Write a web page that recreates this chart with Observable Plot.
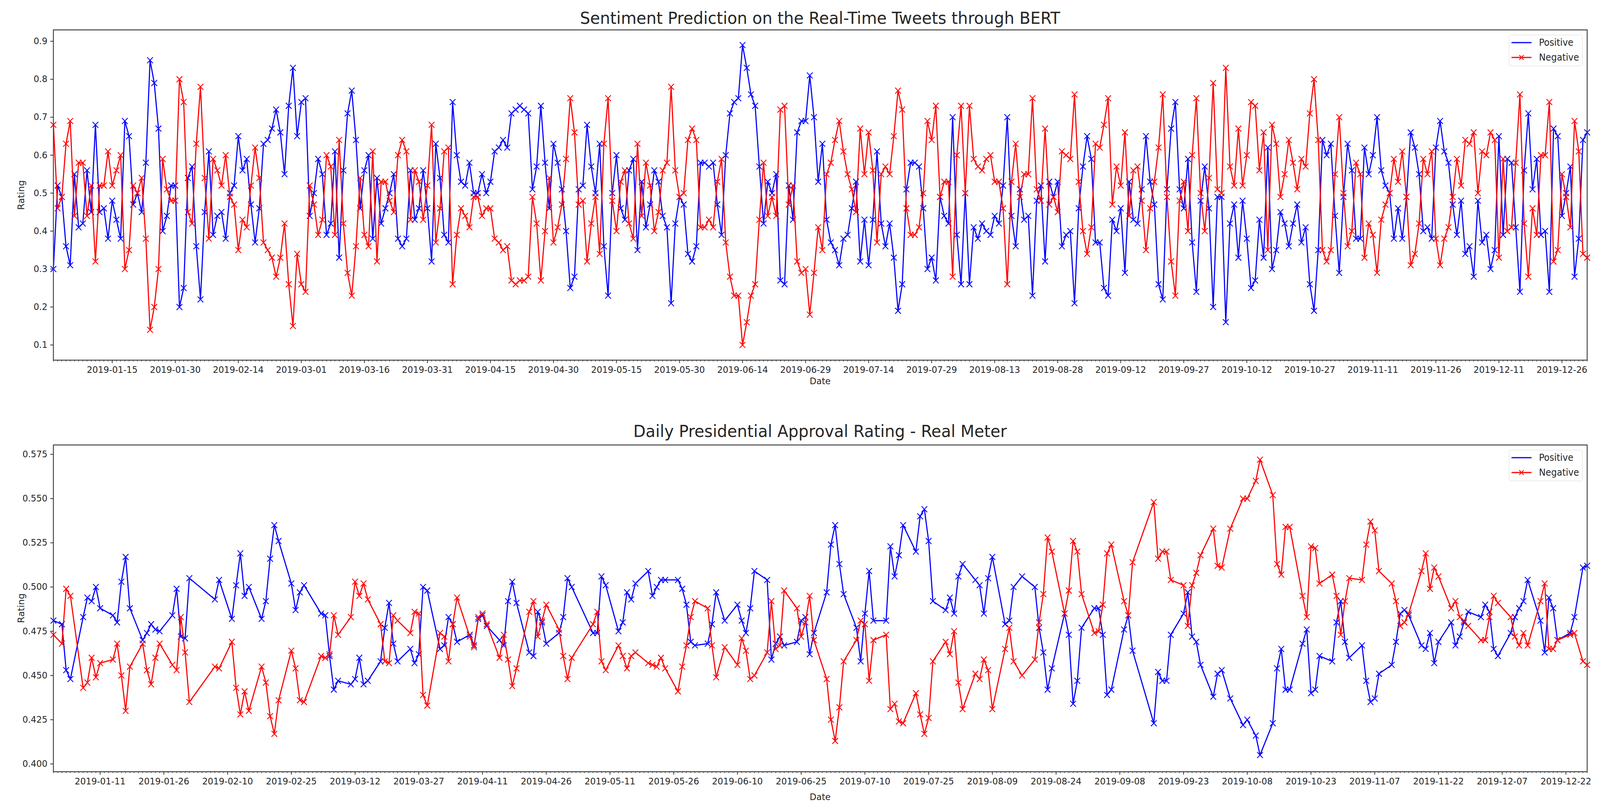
<!DOCTYPE html>
<html>
<head>
<meta charset="utf-8">
<script src="https://cdn.jsdelivr.net/npm/d3@7"></script>
<script src="https://cdn.jsdelivr.net/npm/@observablehq/plot@0.6"></script>
<style>
  html, body { margin: 0; padding: 0; background: #fff; overflow: hidden; }
  #page { position: relative; width: 4299px; height: 2075px; background: #fff; font-family: "DejaVu Sans", sans-serif; color: #262626; overflow: hidden; transform-origin: 0 0; }
  .abs { position: absolute; }
  .title { font-size: 43px; white-space: nowrap; transform: translate(-50%, -50%); line-height: 1; }
  .axlab { font-size: 23.5px; white-space: nowrap; line-height: 1; }
  .legend { position: absolute; width: 198px; height: 80px; border: 1.5px solid #d6d6d6; border-radius: 5px; background: rgba(255,255,255,0.85); box-sizing: border-box; }
  .legend .lrow { position: absolute; left: 6px; height: 30px; display: flex; align-items: center; }
  .legend span { font-size: 24px; margin-left: 18px; line-height: 1; }
</style>
</head>
<body>
<div id="page"></div>
<script>
// ---------------- Data: Sentiment Prediction (daily, 2019-01-01 .. 2020-01-01) ----------------
const tweetPositive = [
  // Jan
  0.30,0.52,0.49,0.36,0.31,0.55,0.41,0.42,0.56,0.45, 0.68,0.45,0.46,0.38,0.48,0.43,0.38,0.69,0.65,0.47,
  0.50,0.45,0.58,0.85,0.79,0.67,0.40,0.44,0.52,0.52, 0.20,
  // Feb
  0.25,0.54,0.57,0.36,0.22,0.45,0.61,0.39,0.44,0.45, 0.38,0.50,0.52,0.65,0.56,0.59,0.47,0.37,0.46,0.63,
  0.64,0.67,0.72,0.66,0.55,0.73,0.83,0.65,
  // Mar
  0.74,0.75,0.44,0.50,0.59,0.55,0.39,0.42,0.61,0.33, 0.56,0.71,0.77,0.64,0.46,0.56,0.60,0.38,0.54,0.42,
  0.46,0.50,0.55,0.38,0.36,0.38,0.56,0.43,0.46,0.56, 0.46,
  // Apr
  0.32,0.63,0.54,0.39,0.37,0.74,0.60,0.53,0.52,0.58, 0.50,0.50,0.55,0.50,0.53,0.61,0.62,0.64,0.62,0.71,
  0.72,0.73,0.72,0.71,0.51,0.57,0.73,0.58,0.46,0.63,
  // May
  0.58,0.51,0.40,0.25,0.28,0.51,0.52,0.68,0.57,0.50, 0.63,0.36,0.23,0.50,0.60,0.46,0.43,0.56,0.59,0.35,
  0.53,0.41,0.47,0.56,0.53,0.44,0.41,0.21,0.42,0.49, 0.47,
  // Jun
  0.34,0.32,0.36,0.58,0.58,0.57,0.58,0.47,0.39,0.60, 0.71,0.74,0.75,0.89,0.83,0.76,0.73,0.57,0.42,0.53,
  0.50,0.55,0.27,0.26,0.52,0.43,0.66,0.69,0.69,0.81,
  // Jul
  0.70,0.53,0.63,0.43,0.37,0.35,0.31,0.38,0.39,0.46, 0.53,0.32,0.43,0.31,0.43,0.61,0.42,0.36,0.42,0.33,
  0.19,0.26,0.51,0.58,0.58,0.57,0.46,0.30,0.33,0.27, 0.49,
  // Aug
  0.44,0.42,0.70,0.39,0.26,0.50,0.26,0.41,0.38,0.42, 0.40,0.39,0.44,0.42,0.52,0.70,0.44,0.36,0.51,0.43,
  0.44,0.23,0.48,0.52,0.32,0.53,0.49,0.53,0.36,0.39, 0.40,
  // Sep
  0.21,0.46,0.57,0.65,0.59,0.37,0.37,0.25,0.23,0.43, 0.40,0.46,0.29,0.53,0.43,0.42,0.51,0.65,0.53,0.47,
  0.26,0.22,0.51,0.67,0.74,0.51,0.46,0.59,0.37,0.24,
  // Oct
  0.48,0.57,0.46,0.20,0.49,0.49,0.16,0.42,0.47,0.33, 0.48,0.38,0.25,0.27,0.43,0.33,0.62,0.30,0.35,0.45,
  0.42,0.36,0.42,0.47,0.37,0.41,0.26,0.19,0.35,0.64, 0.60,
  // Nov
  0.63,0.44,0.29,0.49,0.63,0.56,0.38,0.38,0.62,0.55, 0.60,0.70,0.56,0.52,0.50,0.38,0.46,0.38,0.49,0.66,
  0.62,0.55,0.40,0.41,0.38,0.62,0.69,0.61,0.58,0.47,
  // Dec
  0.39,0.48,0.34,0.36,0.28,0.48,0.37,0.39,0.30,0.35, 0.65,0.39,0.59,0.58,0.41,0.24,0.56,0.71,0.51,0.59,
  0.39,0.40,0.24,0.67,0.65,0.44,0.50,0.57,0.28,0.38, 0.64,
  // 2020-01-01
  0.66
];
const tweetNegative = [
  // Jan
  0.68,0.46,0.49,0.63,0.69,0.44,0.58,0.58,0.44,0.52, 0.32,0.52,0.52,0.61,0.52,0.56,0.60,0.30,0.35,0.52,
  0.50,0.54,0.38,0.14,0.20,0.30,0.59,0.51,0.48,0.48, 0.80,
  // Feb
  0.74,0.45,0.42,0.63,0.78,0.54,0.38,0.59,0.56,0.52, 0.60,0.49,0.47,0.35,0.43,0.41,0.52,0.62,0.54,0.37,
  0.35,0.33,0.28,0.33,0.42,0.26,0.15,0.34,
  // Mar
  0.26,0.24,0.52,0.47,0.39,0.43,0.60,0.57,0.39,0.64, 0.42,0.29,0.23,0.36,0.54,0.39,0.36,0.61,0.32,0.53,
  0.53,0.48,0.45,0.60,0.64,0.61,0.43,0.56,0.53,0.43, 0.52,
  // Apr
  0.68,0.37,0.46,0.61,0.62,0.26,0.39,0.46,0.44,0.41, 0.49,0.49,0.44,0.46,0.46,0.38,0.37,0.35,0.36,0.27,
  0.26,0.27,0.27,0.28,0.49,0.42,0.27,0.40,0.54,0.37,
  // May
  0.41,0.47,0.59,0.75,0.66,0.47,0.48,0.32,0.42,0.49, 0.34,0.63,0.75,0.48,0.40,0.53,0.56,0.42,0.38,0.63,
  0.44,0.58,0.52,0.40,0.45,0.56,0.58,0.78,0.56,0.49, 0.50,
  // Jun
  0.64,0.67,0.64,0.41,0.41,0.43,0.41,0.53,0.59,0.37, 0.28,0.23,0.23,0.10,0.16,0.23,0.26,0.43,0.58,0.44,
  0.49,0.44,0.72,0.73,0.47,0.52,0.32,0.29,0.30,0.18,
  // Jul
  0.29,0.41,0.35,0.55,0.58,0.64,0.69,0.61,0.55,0.51, 0.45,0.67,0.55,0.66,0.56,0.37,0.55,0.57,0.55,0.65,
  0.77,0.72,0.46,0.39,0.39,0.41,0.50,0.69,0.64,0.73, 0.49,
  // Aug
  0.53,0.53,0.28,0.60,0.73,0.50,0.73,0.59,0.57,0.56, 0.59,0.60,0.53,0.53,0.46,0.26,0.53,0.63,0.49,0.55,
  0.55,0.75,0.51,0.48,0.67,0.47,0.49,0.45,0.61,0.60, 0.59,
  // Sep
  0.76,0.53,0.40,0.34,0.41,0.63,0.62,0.68,0.75,0.47, 0.57,0.52,0.66,0.44,0.56,0.57,0.48,0.35,0.46,0.53,
  0.62,0.76,0.49,0.32,0.23,0.48,0.53,0.40,0.60,0.75,
  // Oct
  0.50,0.40,0.54,0.79,0.51,0.50,0.83,0.57,0.52,0.67, 0.52,0.60,0.74,0.73,0.56,0.66,0.35,0.68,0.63,0.49,
  0.55,0.64,0.58,0.51,0.59,0.57,0.71,0.80,0.64,0.35, 0.32,
  // Nov
  0.35,0.55,0.70,0.50,0.36,0.40,0.58,0.55,0.33,0.42, 0.39,0.29,0.43,0.47,0.50,0.59,0.53,0.61,0.49,0.31,
  0.34,0.42,0.59,0.55,0.61,0.38,0.31,0.38,0.41,0.49,
  // Dec
  0.59,0.52,0.64,0.63,0.66,0.50,0.61,0.60,0.66,0.64, 0.33,0.59,0.40,0.41,0.58,0.76,0.42,0.28,0.46,0.39,
  0.60,0.60,0.74,0.32,0.35,0.55,0.49,0.41,0.69,0.61, 0.34,
  // 2020-01-01
  0.33
];
const tweetStart = "2019-01-01";
const tweetTicks = ["2019-01-15","2019-01-30","2019-02-14","2019-03-01","2019-03-16","2019-03-31","2019-04-15","2019-04-30",
  "2019-05-15","2019-05-30","2019-06-14","2019-06-29","2019-07-14","2019-07-29","2019-08-13","2019-08-28",
  "2019-09-12","2019-09-27","2019-10-12","2019-10-27","2019-11-11","2019-11-26","2019-12-11","2019-12-26"];
const tweetYTicks = [0.1,0.2,0.3,0.4,0.5,0.6,0.7,0.8,0.9];

// ---------------- Data: Real Meter daily approval (weekdays, 2018-12-31 .. 2019-12-27) ----------------
const approvalStart = "2018-12-31";
const approvalEnd = "2019-12-27";
const approvalSkipped = ["2019-01-01","2019-02-04","2019-02-05","2019-02-06","2019-03-01","2019-05-03","2019-05-06",
  "2019-06-06","2019-08-15","2019-09-12","2019-09-13","2019-10-03","2019-10-09","2019-12-25"];
const approvalPositive = [
  0.481,
  // Jan
  0.479,0.453,0.448, 0.483,0.494,0.492,0.500,0.488, 0.484,0.480,0.503,0.517,0.488, 0.470,0.474,0.479,0.476,0.475, 0.484,0.499,0.472,0.471,
  // Feb
  0.505, 0.493,0.504, 0.482,0.501,0.519,0.495,0.500, 0.482,0.492,0.516,0.535,0.526, 0.502,0.487,0.497,0.501,
  // Mar
  0.485,0.484,0.461,0.442,0.447, 0.445,0.448,0.460,0.445,0.447, 0.458,0.477,0.491,0.468,0.458, 0.465,0.457,0.462,0.500,0.498,
  // Apr
  0.465,0.467,0.483,0.479,0.469, 0.473,0.467,0.482,0.484,0.478, 0.470,0.467,0.492,0.503,0.491, 0.463,0.461,0.486,0.480,0.468, 0.474,0.483,
  // May
  0.505,0.500, 0.474,0.474,0.506,0.501, 0.475,0.480,0.497,0.493,0.502, 0.509,0.495,0.500,0.504,0.504, 0.504,0.499,0.490,0.469,0.467,
  // Jun
  0.468,0.479,0.497,0.481, 0.490,0.481,0.474,0.488,0.509, 0.504,0.459,0.468,0.472,0.467, 0.469,0.481,0.483,0.462,0.474,
  // Jul
  0.497,0.524,0.535,0.513,0.496, 0.477,0.458,0.485,0.509,0.481, 0.481,0.523,0.506,0.518,0.535, 0.520,0.540,0.544,0.526,0.492, 0.487,0.494,0.485,
  // Aug
  0.506,0.513, 0.504,0.501,0.485,0.505,0.517, 0.479,0.481,0.500,0.506, 0.500,0.477,0.463,0.442,0.454, 0.485,0.473,0.434,0.447,0.477,
  // Sep
  0.488,0.488,0.473,0.439,0.442, 0.476,0.484,0.464, 0.423,0.452,0.447,0.447,0.473, 0.485,0.497,0.472,0.469,0.456, 0.438,
  // Oct
  0.451,0.453,0.437, 0.422,0.425,0.416,0.405, 0.423,0.454,0.465,0.442,0.442, 0.468,0.476,0.440,0.442,0.461, 0.458,0.480,0.492,0.469,
  // Nov
  0.460, 0.467,0.447,0.435,0.437,0.451, 0.456,0.469,0.485,0.487,0.484, 0.467,0.465,0.474,0.457,0.469, 0.480,0.467,0.472,0.480,0.486,
  // Dec
  0.483,0.490,0.486,0.465,0.461, 0.474,0.483,0.488,0.492,0.504, 0.481,0.463,0.494,0.488,0.470, 0.474,0.483,0.511,0.512
];
const approvalNegative = [
  0.473,
  // Jan
  0.468,0.499,0.495, 0.443,0.446,0.460,0.449,0.457, 0.459,0.468,0.450,0.430,0.455, 0.468,0.453,0.445,0.460,0.468, 0.456,0.453,0.483,0.463,
  // Feb
  0.435, 0.455,0.454, 0.469,0.443,0.428,0.441,0.430, 0.455,0.446,0.427,0.417,0.436, 0.464,0.454,0.436,0.435,
  // Mar
  0.461,0.460,0.462,0.484,0.473, 0.483,0.503,0.495,0.502,0.493, 0.479,0.458,0.457,0.484,0.481, 0.474,0.486,0.485,0.439,0.433,
  // Apr
  0.474,0.472,0.458,0.479,0.494, 0.472,0.466,0.483,0.485,0.479, 0.460,0.473,0.459,0.444,0.454, 0.486,0.492,0.472,0.481,0.490, 0.476,0.461,
  // May
  0.448,0.460, 0.479,0.486,0.458,0.453, 0.467,0.461,0.454,0.461,0.463, 0.457,0.456,0.455,0.460,0.454, 0.441,0.455,0.467,0.483,0.492,
  // Jun
  0.488,0.467,0.449,0.466, 0.456,0.471,0.464,0.448,0.450, 0.463,0.492,0.465,0.467,0.498, 0.488,0.472,0.480,0.495,0.470,
  // Jul
  0.448,0.425,0.413,0.432,0.458, 0.470,0.481,0.479,0.447,0.470, 0.473,0.431,0.434,0.424,0.423, 0.440,0.428,0.417,0.426,0.458, 0.469,0.462,0.475,
  // Aug
  0.446,0.431, 0.451,0.448,0.459,0.453,0.431, 0.465,0.477,0.458,0.450, 0.459,0.480,0.496,0.528,0.520, 0.485,0.498,0.526,0.520,0.496,
  // Sep
  0.474,0.475,0.490,0.519,0.524, 0.492,0.484,0.514, 0.548,0.516,0.520,0.520,0.504, 0.501,0.478,0.501,0.508,0.518, 0.533,
  // Oct
  0.512,0.511,0.533, 0.550,0.550,0.560,0.572, 0.552,0.513,0.507,0.534,0.534, 0.495,0.483,0.523,0.522,0.502, 0.507,0.495,0.473,0.492,
  // Nov
  0.505, 0.504,0.524,0.537,0.532,0.509, 0.502,0.492,0.478,0.480,0.485, 0.509,0.519,0.499,0.511,0.506, 0.488,0.492,0.483,0.481,0.478,
  // Dec
  0.470,0.470,0.483,0.495,0.491, 0.483,0.472,0.467,0.474,0.467, 0.492,0.502,0.465,0.465,0.470, 0.473,0.474,0.458,0.456
];
const approvalTicks = ["2019-01-11","2019-01-26","2019-02-10","2019-02-25","2019-03-12","2019-03-27","2019-04-11","2019-04-26",
  "2019-05-11","2019-05-26","2019-06-10","2019-06-25","2019-07-10","2019-07-25","2019-08-09","2019-08-24",
  "2019-09-08","2019-09-23","2019-10-08","2019-10-23","2019-11-07","2019-11-22","2019-12-07","2019-12-22"];
const approvalYTicks = [0.400,0.425,0.450,0.475,0.500,0.525,0.550,0.575];

const seriesNames = ["Positive", "Negative"];
const seriesColors = ["#0000ff", "#ff0000"];
const titles = ["Sentiment Prediction on the Real-Time Tweets through BERT", "Daily Presidential Approval Rating - Real Meter"];

// ---------------- Build tables ----------------
const parse = d3.utcParse("%Y-%m-%d");
const tweetDates = d3.utcDay.range(parse(tweetStart), d3.utcDay.offset(parse(tweetStart), tweetPositive.length));
const tweetRows = tweetDates.map((d, i) => ({date: d, pos: tweetPositive[i], neg: tweetNegative[i]}));

const skipSet = new Set(approvalSkipped);
const fmt = d3.utcFormat("%Y-%m-%d");
const approvalDates = d3.utcDay.range(parse(approvalStart), d3.utcDay.offset(parse(approvalEnd), 1))
  .filter(d => d.getUTCDay() !== 0 && d.getUTCDay() !== 6 && !skipSet.has(fmt(d)));
const approvalRows = approvalDates.map((d, i) => ({date: d, pos: approvalPositive[i], neg: approvalNegative[i]}));

// ---------------- Chart builder ----------------
function chart({rows, xDomain, yDomain, xTicks, yTicks, yFormat, height, marginTop, marginBottom}) {
  const minor = d3.utcDay.range(xDomain[0], d3.utcDay.offset(xDomain[1], 1));
  return Plot.plot({
    width: 4299,
    height,
    marginTop, marginBottom,
    marginLeft: 143, marginRight: 35,
    style: {fontFamily: "DejaVu Sans, sans-serif", fontSize: "23.5px", color: "#262626", background: "white", overflow: "visible", maxWidth: "none"},
    x: {type: "utc", domain: xDomain},
    y: {domain: yDomain},
    marks: [
      Plot.axisX({ticks: minor, tickSize: 4, tickFormat: () => "", label: null, stroke: "#333", strokeWidth: 1.5}),
      Plot.axisX({ticks: xTicks.map(parse), tickSize: 8, tickPadding: 8, tickFormat: d3.utcFormat("%Y-%m-%d"), label: null, stroke: "#333", strokeWidth: 2, fill: "#262626"}),
      Plot.axisY({ticks: yTicks, tickSize: 8, tickPadding: 8, tickFormat: d3.format(yFormat), label: null, stroke: "#333", strokeWidth: 2, fill: "#262626"}),
      Plot.line(rows, {x: "date", y: "pos", stroke: seriesColors[0], strokeWidth: 3}),
      Plot.dot(rows, {x: "date", y: "pos", symbol: "times", r: 7, stroke: seriesColors[0], strokeWidth: 2.2}),
      Plot.line(rows, {x: "date", y: "neg", stroke: seriesColors[1], strokeWidth: 3}),
      Plot.dot(rows, {x: "date", y: "neg", symbol: "times", r: 7, stroke: seriesColors[1], strokeWidth: 2.2}),
      Plot.frame({stroke: "#444", strokeWidth: 2.5})
    ]
  });
}

const page = document.getElementById("page");

function place(el, left, top) {
  el.style.position = "absolute";
  el.style.left = left + "px";
  el.style.top = top + "px";
  page.appendChild(el);
}

const topChart = chart({
  rows: tweetRows,
  xDomain: [tweetDates[0], tweetDates[tweetDates.length - 1]],
  yDomain: [0.06, 0.93],
  xTicks: tweetTicks, yTicks: tweetYTicks, yFormat: ".1f",
  height: 1000, marginTop: 76, marginBottom: 79
});
place(topChart, 0, 0);

const bottomChart = chart({
  rows: approvalRows,
  xDomain: [approvalDates[0], approvalDates[approvalDates.length - 1]],
  yDomain: [0.3956, 0.5803],
  xTicks: approvalTicks, yTicks: approvalYTicks, yFormat: ".3f",
  height: 1015, marginTop: 78, marginBottom: 101
});
place(bottomChart, 0, 1060);

// ---------------- Text: titles, axis labels ----------------
function addText(cls, text, left, top, extra) {
  const d = document.createElement("div");
  d.className = "abs " + cls;
  d.textContent = text;
  d.style.left = left + "px";
  d.style.top = top + "px";
  if (extra) Object.assign(d.style, extra);
  page.appendChild(d);
  return d;
}
const plotCenterX = (143 + 4264) / 2;
addText("title", titles[0], plotCenterX, 46);
addText("title", titles[1], plotCenterX, 1103);
addText("axlab", "Date", plotCenterX, 976, {transform: "translate(-50%, -50%)"});
addText("axlab", "Date", plotCenterX, 2040, {transform: "translate(-50%, -50%)"});
addText("axlab", "Rating", 58, (76 + 921) / 2, {transform: "translate(-50%, -50%) rotate(-90deg)"});
addText("axlab", "Rating", 58, (1138 + 1974) / 2, {transform: "translate(-50%, -50%) rotate(-90deg)"});

// ---------------- Legends ----------------
function legend(top) {
  const box = document.createElement("div");
  box.className = "legend";
  box.style.left = "4054px";
  box.style.top = top + "px";
  seriesNames.forEach((name, i) => {
    const row = document.createElement("div");
    row.className = "lrow";
    row.style.top = (4 + i * 38) + "px";
    const ns = "http://www.w3.org/2000/svg";
    const svg = document.createElementNS(ns, "svg");
    svg.setAttribute("width", "56");
    svg.setAttribute("height", "30");
    const line = document.createElementNS(ns, "line");
    line.setAttribute("x1", "0"); line.setAttribute("x2", "54");
    line.setAttribute("y1", "15"); line.setAttribute("y2", "15");
    line.setAttribute("stroke", seriesColors[i]); line.setAttribute("stroke-width", "3");
    svg.appendChild(line);
    if (i === 1) {
      const p = document.createElementNS(ns, "path");
      p.setAttribute("d", "M21,9L33,21M21,21L33,9");
      p.setAttribute("stroke", seriesColors[i]); p.setAttribute("stroke-width", "2.2"); p.setAttribute("fill", "none");
      svg.appendChild(p);
    }
    row.appendChild(svg);
    const s = document.createElement("span");
    s.textContent = name;
    row.appendChild(s);
    box.appendChild(row);
  });
  page.appendChild(box);
}
legend(89);
legend(1151);

// ---------------- Fit the 4299x2075 design onto the whole viewport ----------------
function fit() {
  const sx = window.innerWidth / 4299;
  const sy = window.innerHeight / 2075;
  page.style.transform = "scale(" + sx + "," + sy + ")";
}
fit();
window.addEventListener("resize", fit);
</script>
</body>
</html>
